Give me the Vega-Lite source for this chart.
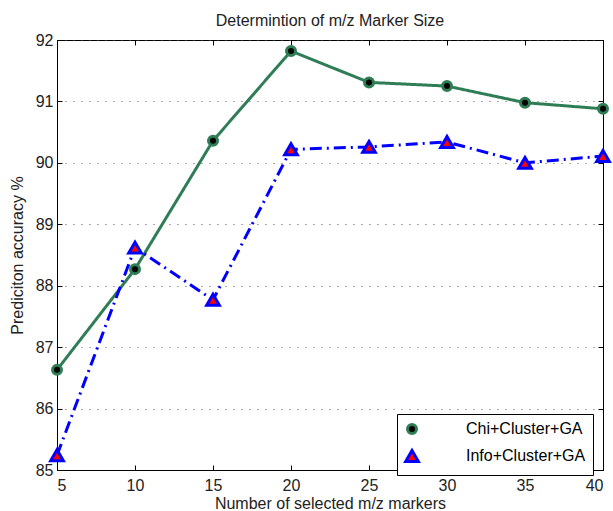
{
  "$schema": "https://vega.github.io/schema/vega-lite/v6.json",
  "width": 546,
  "height": 430,
  "autosize": "none",
  "padding": {"left": 57, "top": 40, "right": 10, "bottom": 41},
  "background": "white",
  "config": {
    "font": "Liberation Sans",
    "view": {"stroke": "black", "strokeWidth": 1},
    "axis": {
      "labelFont": "Liberation Sans",
      "titleFont": "Liberation Sans",
      "labelFontSize": 16,
      "titleFontSize": 16,
      "titleFontWeight": "normal",
      "labelColor": "#222",
      "titleColor": "#222",
      "domainColor": "black",
      "tickColor": "black",
      "gridColor": "#555",
      "gridDash": [1, 7],
      "gridWidth": 1,
      "gridOpacity": 1
    }
  },
  "title": {
    "text": "Determintion of m/z Marker Size",
    "fontSize": 16,
    "fontWeight": "normal",
    "font": "Liberation Sans",
    "color": "#222",
    "offset": 3,
    "anchor": "middle"
  },
  "data": {
    "values": [
      {"markers": 5, "method": "Chi+Cluster+GA", "accuracy": 86.63},
      {"markers": 10, "method": "Chi+Cluster+GA", "accuracy": 88.27},
      {"markers": 15, "method": "Chi+Cluster+GA", "accuracy": 90.36},
      {"markers": 20, "method": "Chi+Cluster+GA", "accuracy": 91.82},
      {"markers": 25, "method": "Chi+Cluster+GA", "accuracy": 91.31},
      {"markers": 30, "method": "Chi+Cluster+GA", "accuracy": 91.25},
      {"markers": 35, "method": "Chi+Cluster+GA", "accuracy": 90.98},
      {"markers": 40, "method": "Chi+Cluster+GA", "accuracy": 90.88},
      {"markers": 5, "method": "Info+Cluster+GA", "accuracy": 85.24},
      {"markers": 10, "method": "Info+Cluster+GA", "accuracy": 88.62},
      {"markers": 15, "method": "Info+Cluster+GA", "accuracy": 87.77},
      {"markers": 20, "method": "Info+Cluster+GA", "accuracy": 90.22},
      {"markers": 25, "method": "Info+Cluster+GA", "accuracy": 90.26},
      {"markers": 30, "method": "Info+Cluster+GA", "accuracy": 90.34},
      {"markers": 35, "method": "Info+Cluster+GA", "accuracy": 90.0},
      {"markers": 40, "method": "Info+Cluster+GA", "accuracy": 90.11}
    ]
  },
  "resolve": {"axis": {"x": "independent", "y": "independent"}},
  "layer": [
    {
      "mark": {"type": "line", "strokeWidth": 3},
      "encoding": {
        "x": {
          "field": "markers", "type": "quantitative",
          "scale": {"domain": [5, 40], "nice": false, "zero": false},
          "axis": {"values": [5, 10, 15, 20, 25, 30, 35, 40], "title": "Number of selected m/z markers", "grid": false, "tickSize": -5, "labelPadding": 12, "titlePadding": 2}
        },
        "y": {
          "field": "accuracy", "type": "quantitative",
          "scale": {"domain": [85, 92], "nice": false, "zero": false},
          "axis": {"values": [85, 86, 87, 88, 89, 90, 91, 92], "title": "Prediciton accuracy %", "grid": true, "tickSize": -5, "labelPadding": 9, "titlePadding": 10}
        },
        "stroke": {"field": "method", "type": "nominal", "title": null, "scale": {"domain": ["Chi+Cluster+GA", "Info+Cluster+GA"], "range": ["#2E7D55", "#0000FF"]}},
        "strokeDash": {"field": "method", "type": "nominal", "scale": {"domain": ["Info+Cluster+GA", "Chi+Cluster+GA"], "range": [[12, 5, 2, 5], [1, 0]]}, "legend": null}
      }
    },
    {
      "mark": {"type": "point", "filled": true, "strokeWidth": 3, "opacity": 1},
      "encoding": {
        "x": {"field": "markers", "type": "quantitative", "axis": null},
        "y": {"field": "accuracy", "type": "quantitative", "axis": null},
        "shape": {"field": "method", "type": "nominal", "title": null,
          "scale": {"domain": ["Chi+Cluster+GA", "Info+Cluster+GA"], "range": ["circle", "triangle-up"]},
          "legend": {
            "orient": "none",
            "legendX": 340,
            "legendY": 374,
            "strokeColor": "black",
            "fillColor": "white",
            "padding": 7,
            "labelFontSize": 16,
            "labelFont": "Liberation Sans",
            "labelColor": "black",
            "symbolSize": 104,
            "symbolStrokeWidth": 3,
            "symbolOpacity": 1,
            "labelOffset": 46,
            "rowPadding": 4
          }
        },
        "size": {"field": "method", "type": "nominal", "title": null, "scale": {"domain": ["Chi+Cluster+GA", "Info+Cluster+GA"], "range": [81, 160]}},
        "fill": {"field": "method", "type": "nominal", "title": null, "scale": {"domain": ["Chi+Cluster+GA", "Info+Cluster+GA"], "range": ["black", "red"]}},
        "stroke": {"field": "method", "type": "nominal", "title": null}
      }
    },
    {
      "mark": {"type": "point", "opacity": 0},
      "encoding": {
        "x": {"field": "markers", "type": "quantitative",
          "axis": {"orient": "top", "values": [5, 10, 15, 20, 25, 30, 35, 40], "labels": false, "title": null, "domain": false, "grid": false, "tickSize": -5}},
        "y": {"field": "accuracy", "type": "quantitative",
          "axis": {"orient": "right", "values": [85, 86, 87, 88, 89, 90, 91, 92], "labels": false, "title": null, "domain": false, "grid": false, "tickSize": -5}}
      }
    }
  ]
}
